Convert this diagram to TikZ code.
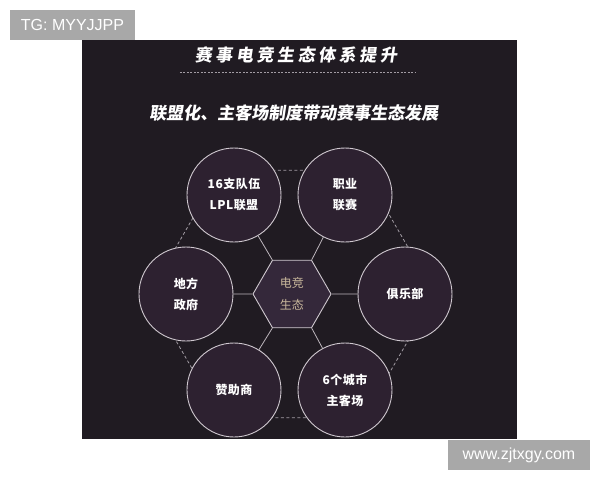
\documentclass[tikz,border=0pt]{standalone}
\usepackage{fontspec}
\setmainfont{Liberation Sans}
\newfontfamily\cjk{Noto Sans CJK SC}
\newfontfamily\cjkhead[FakeSlant=0.15,LetterSpace=21]{Noto Sans CJK SC}
\newfontfamily\cjksub[FakeSlant=0.15]{Noto Sans CJK SC}
\newfontfamily\cjkclub[LetterSpace=4]{Noto Sans CJK SC}
\usetikzlibrary{shapes.geometric}
\definecolor{panel}{HTML}{201B22}
\definecolor{clubfill}{HTML}{2D2130}
\definecolor{hexfill}{HTML}{34283A}
\definecolor{rim}{HTML}{CFC8CF}
\definecolor{linkgrey}{HTML}{BDB6BD}
\definecolor{ringgrey}{HTML}{A29CA4}
\definecolor{hextext}{HTML}{C9B89C}
\definecolor{taggrey}{HTML}{A8A8A8}
\tikzset{
  club/.style={circle, draw=rim, line width=0.9pt, fill=clubfill, minimum size=94pt,
    inner sep=0pt, text=white, align=center, font=\cjkclub\bfseries\fontsize{12}{21}\selectfont},
  core/.style={regular polygon, regular polygon sides=6, minimum size=78pt, inner sep=0pt,
    draw=rim, line width=0.9pt, fill=hexfill, text=hextext, align=center,
    font=\cjk\fontsize{12}{22}\selectfont},
  link/.style={draw=linkgrey, line width=0.8pt},
  ring/.style={draw=ringgrey, line width=0.8pt, dash pattern=on 3pt off 2.5pt},
  tagbox/.style={fill=taggrey, text=white, minimum height=30pt, inner sep=0pt,
    font=\fontsize{16}{16}\selectfont}
}
\begin{document}
\begin{tikzpicture}[x=1pt, y=1pt, line join=round]
% Thông số
\def\rcore{39}
\def\rring{143}
\useasboundingbox (-292,-186) rectangle (308,294);
\fill[white] (-292,-186) rectangle (308,294);
% Nền tối
\fill[panel] (-210,-145) rectangle (225,254);
% Tiêu đề
\node[text=white, font=\cjkhead\bfseries\fontsize{17}{17}\selectfont] (title) at (4,239) {赛事电竞生态体系提升};
\draw[ring, dash pattern=on 2pt off 1.5pt] (-112,222) -- (123,222);
\node[text=white, font=\cjksub\bfseries\fontsize{17}{17}\selectfont] (subtitle) at (2,181) {联盟化、主客场制度带动赛事生态发展};
% Lục giác ngoài (nét đứt)
\draw[ring] (0:\rring) -- (60:\rring) -- (120:\rring) -- (180:\rring) -- (240:\rring) -- (300:\rring) -- cycle;
% Các vòng tròn
\node[club] (lpl) at (-58,99) {16支队伍\\LPL联盟};
\node[club] (league) at (53,99) {职业\\联赛};
\node[club] (gov) at (-106,0) {地方\\政府};
\node[club] (team) at (113,0) {俱乐部};
\node[club] (sponsor) at (-58,-96) {赞助商};
\node[club] (home) at (53,-96) {6个城市\\主客场};
% Lục giác trung tâm
\node[core] (hex) at (0,0) {电竞\\生态};
% Nối tâm với các vòng tròn
\draw[link] (hex.120) -- (lpl);
\draw[link] (hex.60) -- (league);
\draw[link] (hex.180) -- (gov);
\draw[link] (hex.0) -- (team);
\draw[link] (hex.240) -- (sponsor);
\draw[link] (hex.300) -- (home);
% Nhãn góc
\node[tagbox, minimum width=125pt] (tg) at (-219.5,269) {TG: MYYJJPP};
\node[tagbox, minimum width=142pt] (site) at (227,-161) {www.zjtxgy.com};
\end{tikzpicture}
\end{document}
